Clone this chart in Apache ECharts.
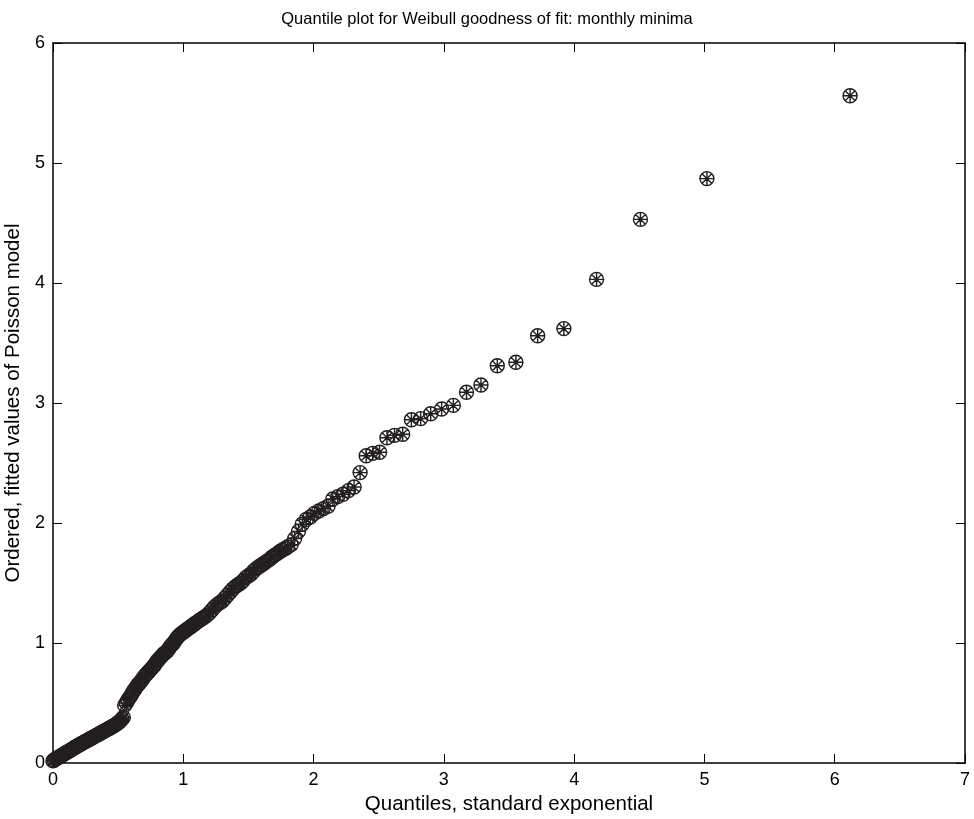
<!DOCTYPE html>
<html>
<head>
<meta charset="utf-8">
<script src="https://cdn.jsdelivr.net/npm/echarts@6/dist/echarts.min.js"></script>
<style>
  html, body { margin: 0; padding: 0; background: #fff; }
  #chart { width: 974px; height: 819px; }
</style>
</head>
<body>
<div id="chart"></div>
<script>
// quantiles of the standard exponential (x) against ordered fitted values (y)
// lower dense band
const lowQuantiles = [
  0.00, 0.01, 0.02, 0.03, 0.04, 0.05, 0.06, 0.07, 0.08, 0.09,
  0.10, 0.11, 0.12, 0.13, 0.14, 0.15, 0.16, 0.17, 0.18, 0.19,
  0.20, 0.21, 0.22, 0.23, 0.24, 0.25, 0.26, 0.27, 0.28, 0.29,
  0.30, 0.31, 0.32, 0.33, 0.34, 0.35, 0.36, 0.37, 0.38, 0.39,
  0.40, 0.41, 0.42, 0.43, 0.44, 0.45, 0.46, 0.47, 0.48, 0.49,
  0.50, 0.51, 0.52, 0.53, 0.54
];
const lowFitted = [
  0.018, 0.025, 0.032, 0.040, 0.046, 0.052, 0.058, 0.065, 0.072, 0.079,
  0.085, 0.091, 0.098, 0.104, 0.110, 0.118, 0.125, 0.131, 0.138, 0.144,
  0.150, 0.156, 0.162, 0.168, 0.175, 0.180, 0.186, 0.192, 0.198, 0.204,
  0.210, 0.216, 0.222, 0.228, 0.234, 0.240, 0.246, 0.252, 0.258, 0.264,
  0.270, 0.276, 0.282, 0.288, 0.294, 0.300, 0.306, 0.313, 0.320, 0.327,
  0.335, 0.344, 0.355, 0.367, 0.380
];
// steeper dense band after the jump at x ~ 0.55
const midQuantiles = [
  0.55, 0.5625, 0.575, 0.5875, 0.60, 0.6125, 0.625, 0.6375, 0.65, 0.6625,
  0.675, 0.6875, 0.70, 0.7125, 0.725, 0.7375, 0.75, 0.7625, 0.775, 0.7875,
  0.80, 0.8125, 0.825, 0.8375, 0.85, 0.8625, 0.875, 0.8875, 0.90, 0.9125,
  0.925, 0.9375, 0.95, 0.9625, 0.975, 0.9875, 1.00, 1.0125, 1.025, 1.0375,
  1.05, 1.0625, 1.075, 1.0875, 1.10,
  1.12, 1.14, 1.16, 1.18, 1.20, 1.22, 1.24, 1.26, 1.28, 1.30,
  1.32, 1.34, 1.36, 1.38, 1.40, 1.42, 1.44, 1.46, 1.48, 1.50,
  1.52, 1.54, 1.56, 1.58, 1.60, 1.62, 1.64, 1.66, 1.68, 1.70,
  1.72, 1.74, 1.76, 1.78, 1.80, 1.828
];
const midFitted = [
  0.48, 0.50, 0.525, 0.545, 0.565, 0.59, 0.61, 0.63, 0.65, 0.665,
  0.68, 0.70, 0.72, 0.735, 0.75, 0.765, 0.78, 0.795, 0.81, 0.83,
  0.85, 0.865, 0.88, 0.895, 0.91, 0.92, 0.93, 0.95, 0.97, 0.985,
  1.00, 1.02, 1.04, 1.055, 1.07, 1.08, 1.09, 1.10, 1.11, 1.12,
  1.13, 1.14, 1.15, 1.16, 1.17,
  1.185, 1.20, 1.215, 1.23, 1.25, 1.275, 1.30, 1.32, 1.335, 1.35,
  1.375, 1.40, 1.425, 1.45, 1.47, 1.485, 1.50, 1.52, 1.545, 1.56,
  1.575, 1.60, 1.62, 1.635, 1.65, 1.665, 1.68, 1.695, 1.715, 1.73,
  1.745, 1.76, 1.775, 1.785, 1.80, 1.82
];
// sparse upper tail, one point per observation
const tailQuantiles = [
  1.855, 1.884, 1.913, 1.944, 1.975, 2.007, 2.040, 2.075, 2.111, 2.148,
  2.186, 2.226, 2.268, 2.311, 2.357, 2.404, 2.454, 2.507, 2.563, 2.621,
  2.684, 2.751, 2.822, 2.899, 2.983, 3.073, 3.174, 3.285, 3.410, 3.553,
  3.720, 3.921, 4.172, 4.509, 5.019, 6.118
];
const tailFitted = [
  1.87, 1.93, 1.99, 2.03, 2.05, 2.08, 2.10, 2.12, 2.14, 2.20,
  2.22, 2.24, 2.27, 2.30, 2.42, 2.56, 2.58, 2.59, 2.71, 2.73,
  2.74, 2.86, 2.87, 2.91, 2.95, 2.98, 3.09, 3.15, 3.31, 3.34,
  3.56, 3.62, 4.03, 4.53, 4.87, 5.56
];
const xRange = [0, 7];
const yRange = [0, 6];

const quantiles = lowQuantiles.concat(midQuantiles, tailQuantiles);
const fitted = lowFitted.concat(midFitted, tailFitted);

const ink = '#231f20';
const font = 'Liberation Sans, Arial, Helvetica, sans-serif';
// circle with an 8-spoke asterisk inside
const marker = 'path://M20,10A10,10 0 1,1 0,10A10,10 0 1,1 20,10Z' +
  'M10,0L10,20M0,10L20,10M2.93,2.93L17.07,17.07M17.07,2.93L2.93,17.07';

const chart = echarts.init(document.getElementById('chart'));

const boxAxis = (extra) => Object.assign({
  type: 'value',
  interval: 1,
  splitLine: { show: false },
  axisLine: { show: true, onZero: false, lineStyle: { color: '#000', width: 1.5 } },
  axisTick: { show: true, inside: true, length: 9, lineStyle: { color: '#000', width: 1 } },
  axisLabel: { show: false }
}, extra);

const label = { show: true, color: '#000', fontFamily: font, fontSize: 18, margin: 8 };

let option = {
  animation: false,
  backgroundColor: '#fff',
  title: {
    text: 'Quantile plot for Weibull goodness of fit: monthly minima',
    left: 'center',
    top: 6,
    textStyle: { color: '#000', fontFamily: font, fontSize: 16.5, fontWeight: 'normal' }
  },
  grid: { left: 53, right: 9, top: 43, bottom: 56, containLabel: false, outerBoundsMode: 'none' },
  xAxis: [
    boxAxis({
      position: 'bottom', min: xRange[0], max: xRange[1], axisLabel: label,
      name: 'Quantiles, standard exponential', nameLocation: 'middle', nameGap: 26,
      nameTextStyle: { color: '#000', fontFamily: font, fontSize: 20.5 }
    }),
    boxAxis({ position: 'top', min: xRange[0], max: xRange[1] })
  ],
  yAxis: [
    boxAxis({
      position: 'left', min: yRange[0], max: yRange[1], axisLabel: label,
      name: 'Ordered, fitted values of Poisson model', nameLocation: 'middle', nameGap: 25,
      nameTextStyle: { color: '#000', fontFamily: font, fontSize: 20.5 }
    }),
    boxAxis({ position: 'right', min: yRange[0], max: yRange[1] })
  ],
  series: [
    {
      type: 'scatter',
      xAxisIndex: 0,
      yAxisIndex: 0,
      data: quantiles.map((q, i) => [q, fitted[i]]),
      symbol: marker,
      symbolSize: 14,
      itemStyle: { color: 'none', borderColor: ink, borderWidth: 1.4, opacity: 1 },
      emphasis: { disabled: true }
    }
  ]
};
option && chart.setOption(option);
</script>
</body>
</html>
